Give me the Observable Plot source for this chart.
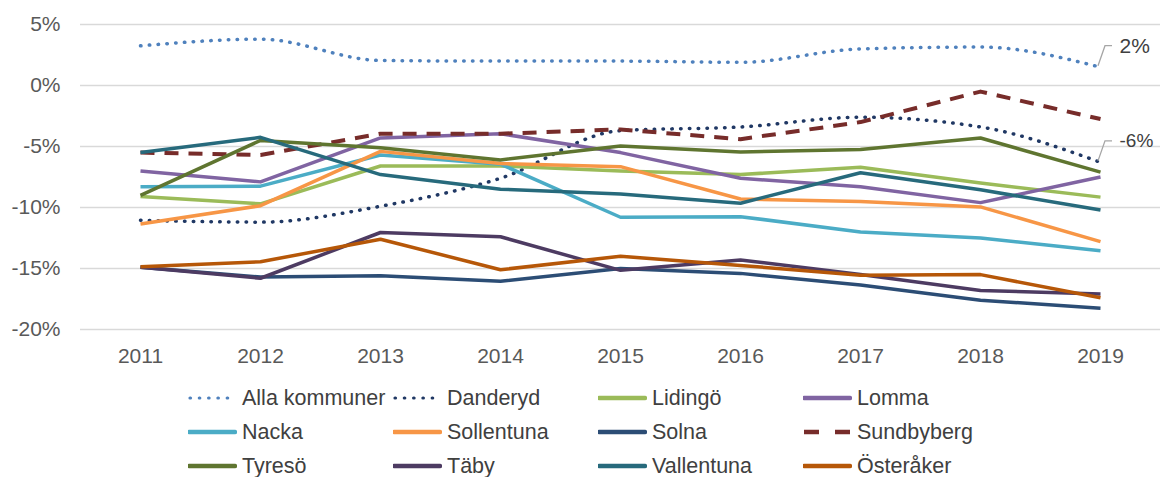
<!DOCTYPE html>
<html>
<head>
<meta charset="utf-8">
<script src="https://cdn.jsdelivr.net/npm/d3@7"></script>
<script src="https://cdn.jsdelivr.net/npm/@observablehq/plot@0.6"></script>
<style>
  html, body { margin: 0; padding: 0; background: #fff; }
  body { width: 1160px; height: 477px; overflow: hidden; font-family: "Liberation Sans", Arial, sans-serif; }
  #chart svg { display: block; }
  #legend { display: grid; grid-template-columns: repeat(4, 205px); grid-auto-rows: 34px; margin-left: 188px; }
  .item { display: flex; align-items: center; font-size: 21.5px; color: #404040; white-space: nowrap; }
  .item svg { flex: none; margin-right: 5px; }
</style>
</head>
<body>
<div id="chart"></div>
<div id="legend"></div>
<script>
const years = ["2011","2012","2013","2014","2015","2016","2017","2018","2019"];
const yTicks = [-20, -15, -10, -5, 0, 5];

const allaKommuner = [3.25, 3.8, 2.05, 2.0, 2.0, 1.9, 3.0, 3.15, 1.5];
const danderyd     = [-11.05, -11.2, -9.9, -7.6, -3.7, -3.4, -2.6, -3.4, -6.3];
const lidingo      = [-9.1, -9.7, -6.6, -6.6, -7.0, -7.3, -6.7, -8.0, -9.15];
const lomma        = [-7.0, -7.9, -4.3, -3.95, -5.5, -7.6, -8.3, -9.6, -7.5];
const nacka        = [-8.3, -8.25, -5.7, -6.45, -10.8, -10.75, -12.0, -12.5, -13.55];
const sollentuna   = [-11.35, -9.85, -5.4, -6.4, -6.65, -9.3, -9.5, -9.95, -12.8];
const solna        = [-14.9, -15.7, -15.6, -16.05, -15.0, -15.4, -16.35, -17.6, -18.25];
const sundbyberg   = [-5.5, -5.7, -3.95, -3.95, -3.6, -4.4, -3.0, -0.5, -2.75];
const tyreso       = [-9.0, -4.5, -5.1, -6.1, -4.95, -5.45, -5.25, -4.3, -7.1];
const taby         = [-14.9, -15.8, -12.05, -12.4, -15.15, -14.3, -15.5, -16.8, -17.1];
const vallentuna   = [-5.5, -4.25, -7.3, -8.5, -8.9, -9.65, -7.15, -8.55, -10.2];
const osteraker    = [-14.85, -14.45, -12.6, -15.1, -14.0, -14.75, -15.55, -15.5, -17.4];

const seriesNames = ["Alla kommuner","Danderyd","Lidingö","Lomma","Nacka","Sollentuna","Solna","Sundbyberg","Tyresö","Täby","Vallentuna","Österåker"];
const seriesValues = [allaKommuner, danderyd, lidingo, lomma, nacka, sollentuna, solna, sundbyberg, tyreso, taby, vallentuna, osteraker];
const seriesColors = ["#4F81BD","#203864","#9BBB59","#8064A2","#4BACC6","#F79646","#2C4D75","#772C2A","#5F7530","#4D3B62","#276A7C","#B65708"];
const seriesStyle  = ["dot","dot","solid","solid","solid","solid","solid","dash","solid","solid","solid","solid"];
const annotated = ["Alla kommuner", "Danderyd"];

const dashFor = s => s === "dot" ? "0.5 8.3" : s === "dash" ? "14 10" : null;

const series = seriesNames.map((name, i) => ({
  name,
  color: seriesColors[i],
  style: seriesStyle[i],
  data: years.map((year, j) => ({year, value: seriesValues[i][j], name}))
}));

const lineMarks = series.map(s => Plot.line(s.data, {
  x: "year", y: "value",
  stroke: s.color,
  strokeWidth: s.style === "dash" ? 4 : 3.5,
  strokeDasharray: dashFor(s.style),
  strokeLinecap: s.style === "dot" ? "round" : "butt",
  strokeLinejoin: "round",
  curve: s.style === "dot" ? "monotone-x" : "linear"
}));

const endLabels = series.filter(s => annotated.includes(s.name)).map(s => s.data[s.data.length - 1]);

const chart = Plot.plot({
  width: 1160,
  height: 381,
  marginLeft: 80,
  marginRight: 0,
  marginTop: 24,
  marginBottom: 52,
  style: {fontFamily: "'Liberation Sans', Arial, sans-serif", fontSize: "21px", color: "#595959", background: "#fff"},
  x: {type: "point", domain: years, padding: 0.5, tickSize: 0, tickPadding: 19, label: null},
  y: {domain: [-20, 5], ticks: yTicks, tickFormat: d => d + "%", tickSize: 0, tickPadding: 20, label: null},
  marks: [
    Plot.gridY(yTicks, {stroke: "#d9d9d9", strokeOpacity: 1, strokeWidth: 1.5}),
    ...lineMarks,
    Plot.text(endLabels, {
      x: "year", y: "value",
      text: d => Math.round(d.value) + "%",
      dx: 19, dy: -21,
      textAnchor: "start",
      fill: "#404040",
      fontSize: d => d.value > 0 ? 21 : 19
    })
  ]
});
document.getElementById("chart").appendChild(chart);

// leader lines for the end labels, positioned through the plot's scales
const xs = chart.scale("x"), ys = chart.scale("y");
const svg = d3.select(chart);
endLabels.forEach(d => {
  const px = xs.apply(d.year), py = ys.apply(d.value);
  svg.append("path")
    .attr("d", `M${px - 2},${py - 1}L${px + 5},${py - 21}L${px + 12},${py - 21}`)
    .attr("fill", "none")
    .attr("stroke", "#a6a6a6")
    .attr("stroke-width", 1.3);
});

// legend
const legend = d3.select("#legend");
series.forEach(s => {
  const item = legend.append("div").attr("class", "item");
  const sw = item.append("svg").attr("width", 49).attr("height", 12);
  sw.append("line")
    .attr("x1", s.style === "dot" ? 2 : 1).attr("x2", s.style === "dot" ? 48 : 47)
    .attr("y1", 6).attr("y2", 6)
    .attr("stroke", s.color)
    .attr("stroke-width", s.style === "dot" ? 3.2 : 4.5)
    .attr("stroke-linecap", s.style === "dot" ? "round" : (s.style === "dash" ? "butt" : "round"))
    .attr("stroke-dasharray", s.style === "dot" ? "0.5 8.8" : s.style === "dash" ? "15 16" : null);
  item.append("span").text(s.name);
});
</script>
</body>
</html>
